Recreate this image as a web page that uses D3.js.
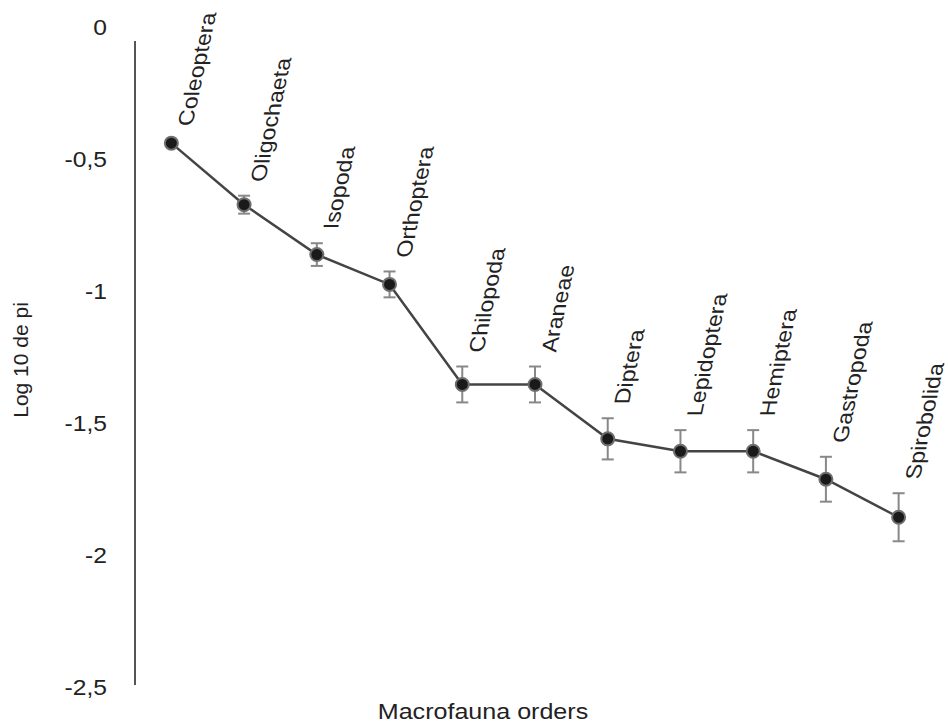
<html>
<head>
<style>
    body { margin: 0; background: #fff; }
    svg { display: block; font-family: Arial, 'Liberation Sans', sans-serif; }
    .y .domain { display: none; }
    .y .tick line { display: none; }
</style>
</head>
<body>
<svg width="948" height="726"></svg>

<script src="https://d3js.org/d3.v7.min.js"></script>
<script>

let width = 948
let height = 726

// values
let orders = ["Coleoptera", "Oligochaeta", "Isopoda", "Orthoptera", "Chilopoda", "Araneae",
              "Diptera", "Lepidoptera", "Hemiptera", "Gastropoda", "Spirobolida"]
let logPi = [-0.44, -0.673, -0.862, -0.975, -1.354, -1.354, -1.56, -1.607, -1.607, -1.713, -1.857]
let errs = [0.012, 0.034, 0.043, 0.049, 0.068, 0.068, 0.078, 0.08, 0.08, 0.085, 0.091]
let yTicks = [0, -0.5, -1, -1.5, -2, -2.5]

let data = orders.map((o, i) => ({name: o, value: logPi[i], err: errs[i]}))

let svg = d3.select("svg")

let x = d3.scaleBand()
    .domain(orders)
    .range([135, 935])

let y = d3.scaleLinear()
    .domain([-2.5, 0])
    .range([687, 27])

let cx = d => x(d.name) + x.bandwidth() / 2

// y axis: labels only, the line is drawn separately
svg.append("g")
    .attr("class", "y axis")
    .attr("transform", "translate(107,0)")
    .call(d3.axisLeft(y)
        .tickValues(yTicks)
        .tickSize(0)
        .tickFormat(d => d3.format("")(d).replace(".", ",").replace("−", "-")))
    .selectAll("text")
    .attr("x", 0)
    .attr("transform", "scale(1.12,1)")
    .style("font-size", "22px")
    .style("fill", "#222")
    .style("font-family", "Arial, 'Liberation Sans', sans-serif")

svg.append("line")
    .attr("x1", 135).attr("x2", 135)
    .attr("y1", 41).attr("y2", y(-2.5) - 2)
    .style("stroke", "#555")
    .style("stroke-width", 2)

// connecting line
svg.append("path")
    .datum(data)
    .attr("d", d3.line().x(cx).y(d => y(d.value)))
    .style("fill", "none")
    .style("stroke", "#444")
    .style("stroke-width", 2.5)

// error bars
let eb = svg.append("g").attr("class", "errbars")
    .selectAll("g")
    .data(data)
    .join("g")
    .style("stroke", "#888")
    .style("stroke-width", 2)

eb.append("line")
    .attr("x1", cx).attr("x2", cx)
    .attr("y1", d => y(d.value + d.err))
    .attr("y2", d => y(d.value - d.err))
eb.append("line")
    .attr("x1", d => cx(d) - 6).attr("x2", d => cx(d) + 6)
    .attr("y1", d => y(d.value + d.err)).attr("y2", d => y(d.value + d.err))
eb.append("line")
    .attr("x1", d => cx(d) - 6).attr("x2", d => cx(d) + 6)
    .attr("y1", d => y(d.value - d.err)).attr("y2", d => y(d.value - d.err))

// markers
svg.append("g")
    .selectAll("circle")
    .data(data)
    .join("circle")
    .attr("cx", cx)
    .attr("cy", d => y(d.value))
    .attr("r", 6.5)
    .style("fill", "#1a1a1a")
    .style("stroke", "#6e6e6e")
    .style("stroke-width", 2)

// slanted category labels (near-vertical, leaning right)
svg.append("g")
    .selectAll("text")
    .data(data)
    .join("text")
    .attr("transform", d => `translate(${cx(d) + 21}, ${y(d.value + d.err) - 14}) rotate(-90) skewY(12) scale(1.08,1)`)
    .text(d => d.name)
    .style("font-size", "21.5px")
    .style("fill", "#222")

// axis titles
svg.append("text")
    .attr("transform", "translate(28, 360) rotate(-90)")
    .attr("text-anchor", "middle")
    .text("Log 10 de pi")
    .style("font-size", "21px")
    .style("fill", "#222")

svg.append("text")
    .attr("transform", "translate(483, 719) scale(1.14,1)")
    .attr("text-anchor", "middle")
    .text("Macrofauna orders")
    .style("font-size", "22px")
    .style("fill", "#222")

</script>
</body>
</html>
